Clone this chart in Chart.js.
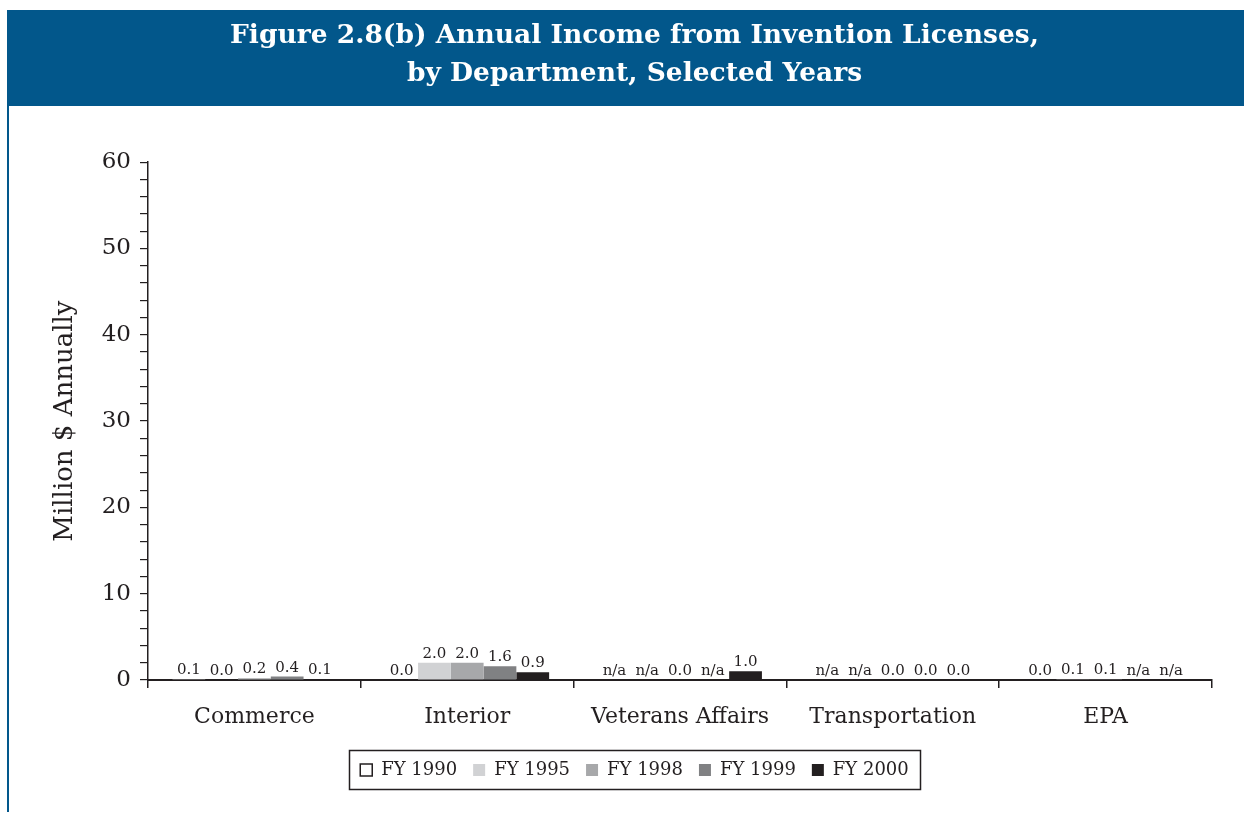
<!DOCTYPE html>
<html>
<head>
<meta charset="utf-8">
<script src="https://cdn.jsdelivr.net/npm/chart.js@4"></script>
<style>
  html, body { margin: 0; padding: 0; background: #ffffff; }
  #wrap { width: 1244px; height: 814px; position: relative; }
</style>
</head>
<body>
<div id="wrap"><canvas id="chart" width="1244" height="814"></canvas></div>
<script>
// Departments along the x axis
const departments = ['Commerce', 'Interior', 'Veterans Affairs', 'Transportation', 'EPA'];
// Fiscal years shown as series
const fiscalYears = ['FY 1990', 'FY 1995', 'FY 1998', 'FY 1999', 'FY 2000'];
// Annual license income, million $ (null = not available)
const fy1990 = [0.1, 0.0, null, null, 0.0];
const fy1995 = [0.0, 2.0, null, null, 0.1];
const fy1998 = [0.2, 2.0, 0.0, 0.0, 0.1];
const fy1999 = [0.4, 1.6, null, 0.0, null];
const fy2000 = [0.1, 0.9, 1.0, 0.0, null];
// Labelled y ticks
const yTickLabels = [0, 10, 20, 30, 40, 50, 60];

const seriesValues = [fy1990, fy1995, fy1998, fy1999, fy2000];
const seriesColors = ['#ffffff', '#d1d2d4', '#a7a8aa', '#808183', '#231f20'];
const SERIF = '"DejaVu Serif", "Liberation Serif", serif';
const BANNER = '#02578b';

// Blue banner behind the title and the thin rule down the left edge
const frame = {
  id: 'frame',
  beforeDraw(chart) {
    const ctx = chart.ctx;
    ctx.save();
    ctx.fillStyle = BANNER;
    ctx.fillRect(7, 10, chart.width - 7, 96);
    ctx.fillRect(7, 106, 2, chart.height - 108);
    ctx.restore();
  }
};

// Value labels above each bar; "n/a" where there is no value
const valueLabels = {
  id: 'valueLabels',
  afterDatasetsDraw(chart) {
    const ctx = chart.ctx;
    const y0 = chart.scales.y.getPixelForValue(0);
    ctx.save();
    ctx.font = '15px ' + SERIF;
    ctx.fillStyle = '#231f20';
    ctx.textAlign = 'center';
    ctx.textBaseline = 'alphabetic';
    chart.data.datasets.forEach((ds, i) => {
      const meta = chart.getDatasetMeta(i);
      meta.data.forEach((bar, j) => {
        const v = ds.data[j];
        const top = (v == null || !isFinite(bar.y)) ? y0 : Math.min(bar.y, y0);
        ctx.fillText(v == null ? 'n/a' : v.toFixed(1), bar.x, top - 5);
      });
    });
    ctx.restore();
  }
};

// Box drawn around the legend items
const legendBox = {
  id: 'legendBox',
  afterDraw(chart) {
    const boxes = chart.legend && chart.legend.legendHitBoxes;
    if (!boxes || !boxes.length) return;
    let l = Infinity, r = -Infinity, t = Infinity, b = -Infinity;
    boxes.forEach(h => {
      l = Math.min(l, h.left); r = Math.max(r, h.left + h.width);
      t = Math.min(t, h.top); b = Math.max(b, h.top + h.height);
    });
    const ctx = chart.ctx;
    ctx.save();
    ctx.strokeStyle = '#231f20';
    ctx.lineWidth = 1.5;
    ctx.strokeRect(Math.round(l - 11) + 0.5, Math.round(t - 11) + 0.5, Math.round(r - l + 22), Math.round(b - t + 21));
    ctx.restore();
  }
};

new Chart(document.getElementById('chart'), {
  type: 'bar',
  data: {
    labels: departments,
    datasets: fiscalYears.map((name, i) => ({
      label: name,
      data: seriesValues[i],
      backgroundColor: seriesColors[i],
      borderWidth: 0,
      barPercentage: 1.0,
      categoryPercentage: 0.77
    }))
  },
  plugins: [frame, valueLabels, legendBox],
  options: {
    responsive: false,
    animation: false,
    devicePixelRatio: 1,
    layout: { padding: { top: 10, left: 57, right: 32, bottom: 25 } },
    plugins: {
      title: {
        display: true,
        text: ['Figure 2.8(b) Annual Income from Invention Licenses,', 'by Department, Selected Years'],
        color: '#ffffff',
        font: { family: SERIF, size: 26.5, weight: 'bold', lineHeight: 1.4 },
        padding: { top: 8, bottom: 70 }
      },
      legend: {
        position: 'bottom',
        labels: {
          color: '#231f20',
          font: { family: SERIF, size: 18 },
          boxWidth: 12,
          boxHeight: 12,
          padding: 16,
          generateLabels(chart) {
            return chart.data.datasets.map((ds, i) => ({
              text: ds.label,
              fillStyle: ds.backgroundColor,
              strokeStyle: '#231f20',
              lineWidth: i === 0 ? 1.5 : 0,
              hidden: false,
              datasetIndex: i,
              fontColor: '#231f20'
            }));
          }
        }
      },
      tooltip: { enabled: false }
    },
    scales: {
      x: {
        offset: true,
        grid: { display: true, offset: true, drawOnChartArea: false, drawTicks: true, tickLength: 8, color: '#231f20', lineWidth: 1.5 },
        border: { display: true, color: '#231f20', width: 2 },
        ticks: { color: '#231f20', font: { family: SERIF, size: 22 }, padding: 16, maxRotation: 0 },
        afterFit(scale) { scale.height = 65; }
      },
      y: {
        min: 0,
        max: 60,
        grid: { display: true, drawOnChartArea: false, drawTicks: true, tickLength: 8, color: '#231f20', lineWidth: 1.2 },
        border: { display: true, color: '#231f20', width: 1.5 },
        ticks: {
          stepSize: 2,
          autoSkip: false,
          color: '#231f20',
          font: { family: SERIF, size: 23 },
          padding: 9,
          callback: (v) => yTickLabels.includes(v) ? String(v) : ''
        },
        title: {
          display: true,
          text: 'Million $ Annually',
          color: '#231f20',
          font: { family: SERIF, size: 26, lineHeight: 1 },
          padding: { top: -5, bottom: 0 }
        },
        afterFit(scale) { scale.width = 91; }
      }
    }
  }
});
</script>
</body>
</html>
